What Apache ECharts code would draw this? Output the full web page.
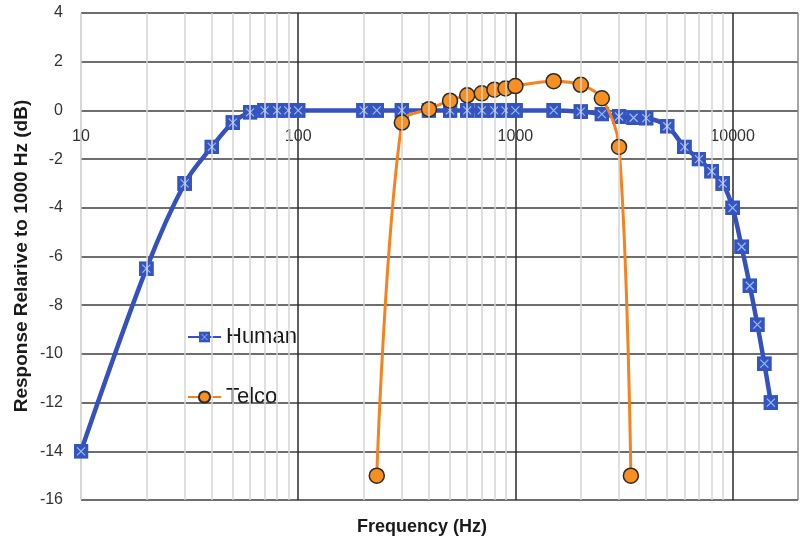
<!DOCTYPE html>
<html>
<head>
<meta charset="utf-8">
<script src="https://cdn.jsdelivr.net/npm/echarts@6/dist/echarts.min.js"></script>
<style>html,body{margin:0;padding:0;background:#fff;}#c{width:805px;height:539px;}</style>
</head>
<body>
<div id="c"></div>
<script>
var humanFreq = [10,20,30,40,50,60,70,80,90,100,200,230,300,400,500,600,700,800,900,1000,1500,2000,2500,3000,3500,4000,5000,6000,7000,8000,9000,10000,11000,12000,13000,14000,15000];
var humanDb = [-14,-6.5,-3,-1.5,-0.5,-0.08,0,0,0,0,0,0,0,0,0,0,0,0,0,0,0,-0.05,-0.15,-0.25,-0.3,-0.32,-0.65,-1.5,-2,-2.5,-3,-4,-5.6,-7.2,-8.8,-10.4,-12];
var telcoFreq = [230,300,400,500,600,700,800,900,1000,1500,2000,2500,3000,3400];
var telcoDb = [-15,-0.5,0.05,0.4,0.62,0.7,0.85,0.9,1.0,1.2,1.05,0.5,-1.5,-15];
var xTicks = [10,100,1000,10000];
var yMin = -16, yMax = 4, yStep = 2;
var xMin = 10, xMax = 20000;

function pairs(xs, ys){ return xs.map(function(x,i){ return [x, ys[i]]; }); }
var minorX = [];
[10,100,1000,10000].forEach(function(d){ for (var k=2;k<=9;k++){ if (d*k < xMax) minorX.push({xAxis: d*k}); } });

var sq = '<svg xmlns="http://www.w3.org/2000/svg" width="15" height="15" viewBox="0 0 15 15">' +
  '<rect x="0" y="0" width="15" height="15" fill="#3454C2"/>' +
  '<path d="M3.5 3.5 L11.5 11.5 M11.5 3.5 L3.5 11.5" stroke="#9CBDF0" stroke-width="1.2"/></svg>';
var sqSym = 'image://data:image/svg+xml;utf8,' + encodeURIComponent(sq);

// labels sit just below the y = 0 line (grid bottom is 390px below it)
var zeroLabelMargin = -371;

var chart = echarts.init(document.getElementById('c'));
chart.setOption({
  animation: false,
  backgroundColor: '#ffffff',
  grid: { left: 81, right: 7, top: 13, bottom: 39, containLabel: false },
  xAxis: {
    type: 'log', logBase: 10, min: xMin, max: xMax,
    axisLine: { show: false, onZero: false },
    axisTick: { show: false },
    axisLabel: {
      margin: zeroLabelMargin, fontSize: 16, color: '#333', fontFamily: 'Liberation Sans',
      formatter: function(v){
        var l = Math.log10(v);
        if (Math.abs(l - Math.round(l)) < 1e-6) { var r = Math.round(Math.pow(10, Math.round(l))); return xTicks.indexOf(r) >= 0 ? String(r) : ''; }
        return '';
      }
    },
    splitLine: { show: true, lineStyle: { color: ['#c8c8c8','#2a2a2a','#2a2a2a','#2a2a2a','#888'], width: 1.5 } }
  },
  yAxis: {
    type: 'value', min: yMin, max: yMax, interval: yStep,
    axisLine: { show: false }, axisTick: { show: false },
    axisLabel: { margin: 18, fontSize: 16, color: '#333', fontFamily: 'Liberation Sans' },
    splitLine: { show: true, lineStyle: { color: '#6e6e6e', width: 1.8 } }
  },
  legend: {
    orient: 'vertical', left: 187, top: 326, padding: 0,
    itemWidth: 33, itemHeight: 14, itemGap: 38,
    textStyle: { fontSize: 22, color: '#1a1a1a', fontFamily: 'Liberation Sans', lineHeight: 22 },
    data: ['Human', 'Telco']
  },
  graphic: [
    { type: 'text', x: 422, y: 518, style: { text: 'Frequency (Hz)', font: 'bold 18px "Liberation Sans"', fill: '#1a1a1a', align: 'center' } },
    { type: 'text', x: 12, y: 256, rotation: Math.PI/2, style: { text: 'Response Relarive to 1000 Hz (dB)', font: 'bold 19px "Liberation Sans"', fill: '#1a1a1a', align: 'center', verticalAlign: 'top' } }
  ],
  series: [
    {
      name: 'minor', type: 'line', data: [], silent: true, z: 1,
      markLine: { silent: true, symbol: 'none', label: { show: false }, lineStyle: { color: '#d4d4d4', width: 1.5, type: 'solid' }, data: minorX, animation: false }
    },
    {
      name: 'Human', type: 'line', data: pairs(humanFreq, humanDb), smooth: 0.35, z: 3,
      symbol: sqSym, symbolSize: 15,
      lineStyle: { color: '#3451BE', width: 4.5 },
      itemStyle: { color: '#3451BE' }
    },
    {
      name: 'Telco', type: 'line', data: pairs(telcoFreq, telcoDb), smooth: 0.35, z: 4,
      symbol: 'circle', symbolSize: 15,
      lineStyle: { color: '#F5821F', width: 3 },
      itemStyle: { color: '#F7901E', borderColor: '#2b2b2b', borderWidth: 1.5 }
    }
  ]
});
</script>
</body>
</html>
